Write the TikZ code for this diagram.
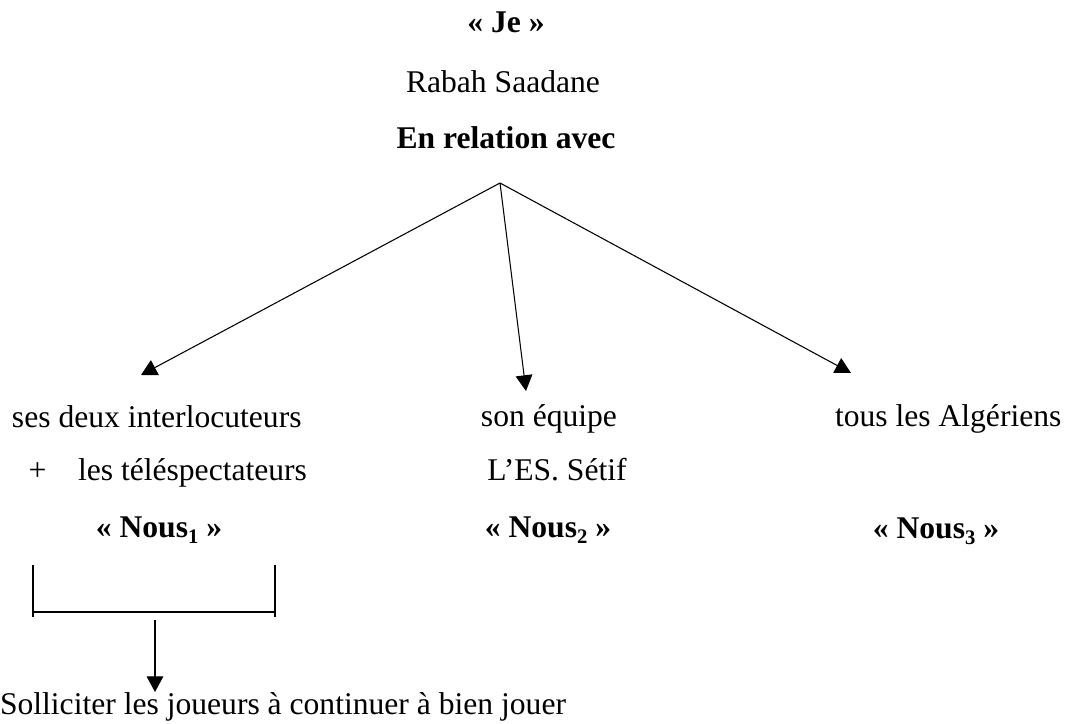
\documentclass[tikz,border=0pt]{standalone}
\usepackage{fontspec}
\setmainfont{Liberation Serif}
\usetikzlibrary{arrows.meta}
\newcommand\lowdigit[1]{\raisebox{-0.22em}{\fontsize{15.5}{16}\selectfont #1}}
\begin{document}
\begin{tikzpicture}[x=0.75pt,y=-0.75pt,
  every node/.style={inner sep=0pt,outer sep=0pt,font=\fontsize{23.7}{28}\selectfont},
  lbl/.style={anchor=base},
  lblw/.style={anchor=base west},
  bld/.style={font=\fontsize{23.7}{28}\selectfont\bfseries},
  link/.style={line width=0.8pt,-{Triangle[length=11.8pt,width=12.5pt]}},
  brk/.style={line width=0.8pt}]
\useasboundingbox (0,0) rectangle (1067,724);

% speaker
\node[lbl,bld] (je) at (506,33) {« Je »};
\node[lbl] (rabah) at (503,93) {Rabah Saadane};
\node[lbl,bld] (rel) at (506,148) {En relation avec};

% branching point and arrow ends
\coordinate (apex) at (500,183);
\coordinate (tipA) at (141,375);
\coordinate (tipB) at (526,391);
\coordinate (tipC) at (851,373);
\draw[link] (apex) -- (tipA);
\draw[link] (apex) -- (tipB);
\draw[link] (apex) -- (tipC);

% first group
\node[lblw] (ses) at (12,427) {ses deux interlocuteurs};
\node[lbl] (plus) at (37.5,480) {+};
\node[lblw] (tele) at (78,480) {les téléspectateurs};
\node[lbl,bld] (nousA) at (159,537) {« Nous\lowdigit{1} »};

% second group
\node[lbl] (equipe) at (549,426) {son équipe};
\node[lbl] (setif) at (557,480) {L’ES. Sétif};
\node[lbl,bld] (nousB) at (548,537) {« Nous\lowdigit{2} »};

% third group
\node[lblw] (alg) at (835,426) {tous les Algériens};
\node[lbl,bld] (nousC) at (936,538) {« Nous\lowdigit{3} »};

% bracket under the first group
\coordinate (bl1) at (33,565);
\coordinate (bl2) at (33,617);
\coordinate (br1) at (275,565);
\coordinate (br2) at (275,617);
\coordinate (bm1) at (33,612);
\coordinate (bm2) at (275,612);
\draw[brk] (bl1) -- (bl2);
\draw[brk] (br1) -- (br2);
\draw[brk] (bm1) -- (bm2);

% conclusion
\coordinate (down) at (155,620);
\coordinate (downtip) at (155,692);
\draw[link] (down) -- (downtip);
\node[lblw] (sol) at (0,714) {Solliciter les joueurs à continuer à bien jouer};
\end{tikzpicture}
\end{document}
